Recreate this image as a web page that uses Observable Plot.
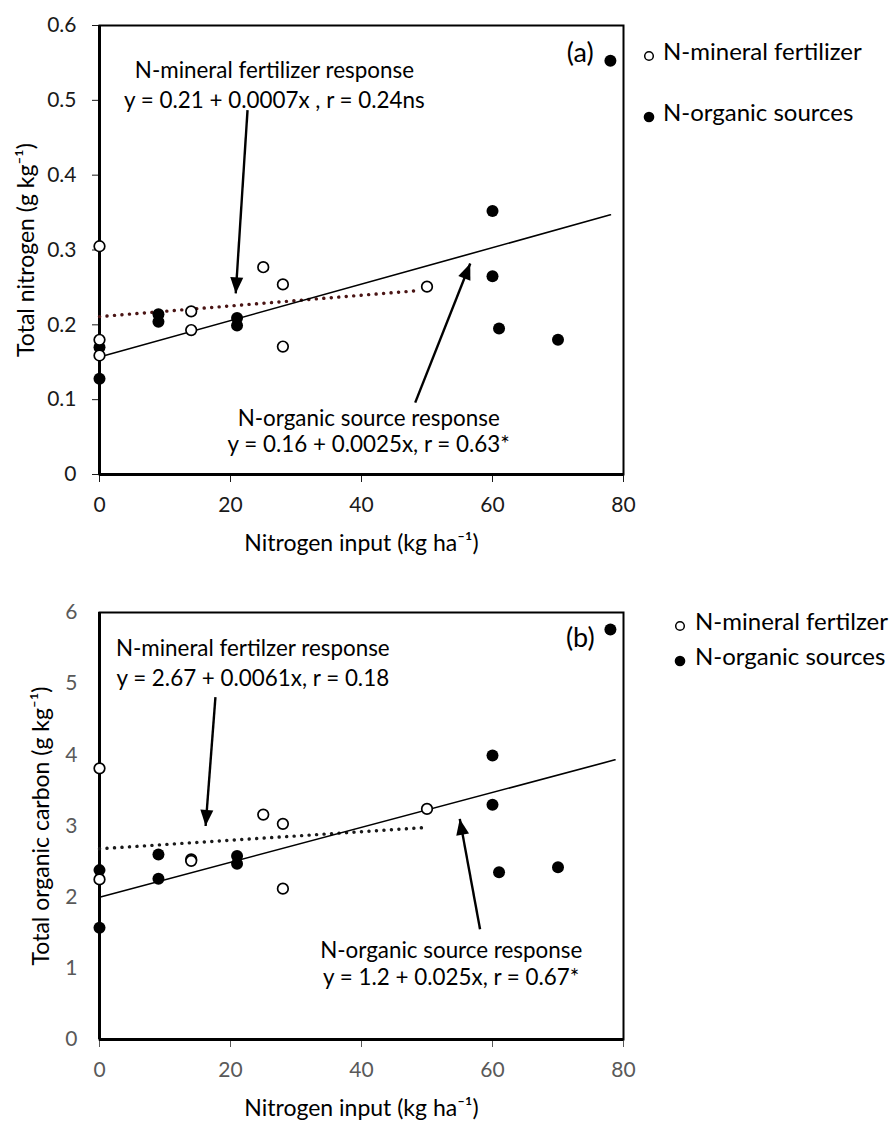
<!DOCTYPE html>
<html><head><meta charset="utf-8">
<script src="https://cdn.jsdelivr.net/npm/d3@7"></script>
<script src="https://cdn.jsdelivr.net/npm/@observablehq/plot@0.6"></script>
<style>
body{margin:0;background:#fff;font-family:Lato,"Open Sans",sans-serif;}
#wrap{position:relative;width:896px;height:1122px;overflow:hidden;}
#wrap > svg{display:block}
.legtxt{position:absolute;font-family:Lato,sans-serif;font-size:24px;color:#000;white-space:nowrap;line-height:28px;}
.legmk{position:absolute;}
</style></head><body><div id="wrap"></div>
<script>
// ---------- data ----------
const xTicks = [0, 20, 40, 60, 80];
const yTicksA = [0, 0.1, 0.2, 0.3, 0.4, 0.5, 0.6];
const yTicksB = [0, 1, 2, 3, 4, 5, 6];

// Panel (a) total nitrogen
const mineralXA = [0, 0, 0, 14, 14, 25, 28, 28, 50];
const mineralYA = [0.305, 0.180, 0.159, 0.218, 0.193, 0.277, 0.254, 0.171, 0.251];
const organicXA = [0, 0, 9, 9, 21, 21, 60, 60, 61, 70, 78];
const organicYA = [0.170, 0.128, 0.214, 0.204, 0.209, 0.199, 0.352, 0.265, 0.195, 0.180, 0.553];
const fitMineralA = {x: [0, 49], y: [0.211, 0.246]};
const fitOrganicA = {x: [0, 78], y: [0.157, 0.347]};

// Panel (b) total organic carbon
const mineralXB = [0, 0, 14, 14, 25, 28, 28, 50];
const mineralYB = [3.81, 2.25, 2.53, 2.51, 3.16, 3.03, 2.12, 3.24];
const organicXB = [0, 0, 9, 9, 21, 21, 60, 60, 61, 70, 78];
const organicYB = [2.38, 1.57, 2.60, 2.26, 2.58, 2.47, 3.99, 3.30, 2.35, 2.42, 5.76];
const fitMineralB = {x: [0, 50], y: [2.68, 2.98]};
const fitOrganicB = {x: [0, 78.7], y: [2.00, 3.93]};

// annotation arrows: [x1, y1, x2(tip), y2(tip)]
const arrowsA = [[22.6, 0.487, 20.8, 0.242], [48.2, 0.096, 56.6, 0.282]];
const arrowsB = [[17.7, 4.81, 16.2, 3.00], [58.1, 1.55, 55.0, 3.10]];

const textsA = [
  {x: 26.7, y: 0.540, t: "N-mineral fertilizer response"},
  {x: 26.7, y: 0.500, t: "y = 0.21 + 0.0007x , r = 0.24ns"},
  {x: 41.1, y: 0.075, t: "N-organic source response"},
  {x: 41.1, y: 0.039, t: "y = 0.16 + 0.0025x, r = 0.63*"}
];
const textsB = [
  {x: 23.4, y: 5.49, t: "N-mineral fertilzer response"},
  {x: 23.4, y: 5.07, t: "y = 2.67 + 0.0061x, r = 0.18"},
  {x: 53.7, y: 1.25, t: "N-organic source response"},
  {x: 53.7, y: 0.86, t: "y = 1.2 + 0.025x, r = 0.67*"}
];
const tagA = {x: 73.4, y: 0.563, t: "(a)"};
const tagB = {x: 73.4, y: 5.63, t: "(b)"};

const legendA = ["N-mineral fertilizer", "N-organic sources"];
const legendB = ["N-mineral fertilzer", "N-organic sources"];

// ---------- layout ----------
const W = 896, ML = 99, MR = 273;
const FONT = "Lato, 'Open Sans', sans-serif";

function headSymbol(dxp, dyp) {
  const len = Math.hypot(dxp, dyp), ux = dxp / len, uy = dyp / len;
  const L = 16, Wd = 6.5;
  const bx = -ux * L, by = -uy * L, px = -uy, py = ux;
  return {draw(ctx) {
    ctx.moveTo(0, 0);
    ctx.lineTo(bx + px * Wd, by + py * Wd);
    ctx.lineTo(bx - px * Wd, by - py * Wd);
    ctx.closePath();
  }};
}

function panel(o) {
  const plotH = o.height - o.marginTop - o.marginBottom;
  const kx = (W - ML - MR) / 80;
  const ky = plotH / (o.yDomain[1] - o.yDomain[0]);
  const mineral = o.mx.map((x, i) => ({x, y: o.my[i]}));
  const organic = o.ox.map((x, i) => ({x, y: o.oy[i]}));
  const fitM = o.fitM.x.map((x, i) => ({x, y: o.fitM.y[i]}));
  const fitO = o.fitO.x.map((x, i) => ({x, y: o.fitO.y[i]}));
  const arrowMarks = [];
  for (const [x1, y1, x2, y2] of o.arrows) {
    arrowMarks.push(Plot.link([{x1, y1, x2, y2}], {x1: "x1", y1: "y1", x2: "x2", y2: "y2", stroke: "black", strokeWidth: 2.4}));
    arrowMarks.push(Plot.dot([{x: x2, y: y2}], {x: "x", y: "y", r: 5, symbol: headSymbol((x2 - x1) * kx, -(y2 - y1) * ky), fill: "black", stroke: "none"}));
  }
  return Plot.plot({
    width: W, height: o.height,
    marginLeft: ML, marginRight: MR, marginTop: o.marginTop, marginBottom: o.marginBottom,
    style: {fontFamily: FONT, fontSize: "21px", color: o.tickColor, background: "white", overflow: "visible"},
    x: {domain: [0, 80], ticks: xTicks, tickSize: 8, tickPadding: 15, tickFormat: d => String(d), label: null},
    y: {domain: o.yDomain, ticks: o.yTicks, tickSize: o.yTickSize, tickPadding: o.yTickPadding, tickFormat: d => String(d), label: null},
    marks: [
      Plot.frame({stroke: "black", strokeWidth: 2}),
      Plot.ruleX([0], {stroke: "black", strokeWidth: 3}),
      Plot.ruleY([o.yDomain[0]], {stroke: "black", strokeWidth: 3}),
      Plot.line(fitM, {x: "x", y: "y", stroke: o.dotColor, strokeWidth: 3.4, strokeDasharray: "0.1 7.4", strokeLinecap: "round"}),
      Plot.line(fitO, {x: "x", y: "y", stroke: "black", strokeWidth: 1.6}),
      ...arrowMarks,
      Plot.dot(organic, {x: "x", y: "y", r: 6, fill: "black", stroke: "none"}),
      Plot.dot(mineral, {x: "x", y: "y", r: 5.3, fill: "white", stroke: "black", strokeWidth: 1.7}),
      Plot.text(o.texts, {x: "x", y: "y", text: "t", fontSize: 22.4, fill: "black", lineAnchor: "middle", fontFamily: FONT}),
      Plot.text([o.tag], {x: "x", y: "y", text: "t", fontSize: 27, fill: "black", lineAnchor: "middle", fontFamily: FONT}),
      Plot.text([o.yLabel], {text: d => d, frameAnchor: "left", textAnchor: "middle", dx: o.yLabelDx, rotate: -90, fontSize: 23, fill: "black", lineAnchor: "middle", fontFamily: FONT}),
      Plot.text([o.xLabel], {text: d => d, frameAnchor: "bottom", textAnchor: "middle", dy: 69, fontSize: 23, fill: "black", lineAnchor: "middle", fontFamily: FONT})
    ]
  });
}

const wrap = document.getElementById("wrap");
wrap.appendChild(panel({
  height: 556, marginTop: 25, marginBottom: 82,
  yDomain: [0, 0.6], yTicks: yTicksA, yTickSize: 7, yTickPadding: 16,
  mx: mineralXA, my: mineralYA, ox: organicXA, oy: organicYA,
  fitM: fitMineralA, fitO: fitOrganicA, arrows: arrowsA, texts: textsA, tag: tagA,
  tickColor: "#1a1a1a", dotColor: "#4a1515", yLabelDx: -73,
  yLabel: "Total nitrogen (g kg\u207B\u00B9)", xLabel: "Nitrogen input (kg ha\u207B\u00B9)"
}));
wrap.appendChild(panel({
  height: 566, marginTop: 56, marginBottom: 83,
  yDomain: [0, 6], yTicks: yTicksB, yTickSize: 0, yTickPadding: 22,
  mx: mineralXB, my: mineralYB, ox: organicXB, oy: organicYB,
  fitM: fitMineralB, fitO: fitOrganicB, arrows: arrowsB, texts: textsB, tag: tagB,
  tickColor: "#595959", dotColor: "#1a1a1a", yLabelDx: -58,
  yLabel: "Total organic carbon (g kg\u207B\u00B9)", xLabel: "Nitrogen input (kg ha\u207B\u00B9)"
}));

// legends (HTML, beside each panel)
function legend(items, mkX, txtX, ys) {
  items.forEach((label, i) => {
    const y = ys[i];
    const mk = document.createElement("div");
    mk.className = "legmk";
    mk.style.left = (mkX - 6) + "px";
    mk.style.top = (y - 6) + "px";
    mk.innerHTML = i === 0
      ? '<svg width="12" height="12"><circle cx="6" cy="6" r="4.3" fill="white" stroke="black" stroke-width="1.5"/></svg>'
      : '<svg width="12" height="12"><circle cx="6" cy="6" r="5.3" fill="black"/></svg>';
    wrap.appendChild(mk);
    const tx = document.createElement("div");
    tx.className = "legtxt";
    tx.style.left = txtX + "px";
    tx.style.top = (y - 15) + "px";
    tx.textContent = label;
    wrap.appendChild(tx);
  });
}
legend(legendA, 649, 663, [52, 113]);
legend(legendB, 680, 695, [622, 657]);
</script></body></html>
